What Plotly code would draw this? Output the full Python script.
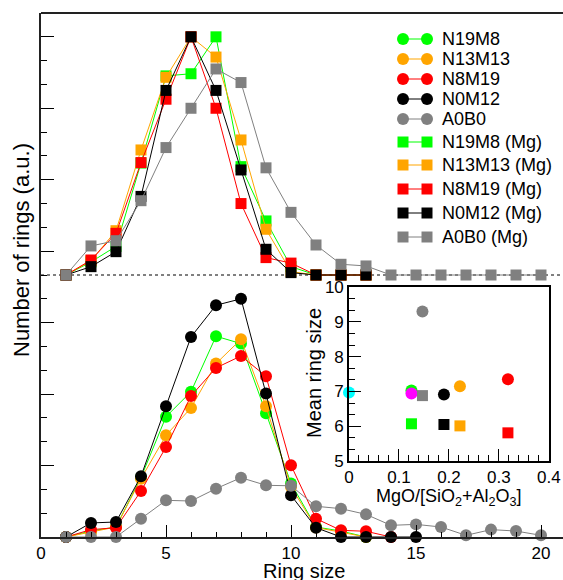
import plotly.graph_objects as go

# ---------------- data ----------------
ring_sizes = list(range(1, 21))

names = ["N19M8", "N13M13", "N8M19", "N0M12", "A0B0"]
colors = ["#00ff00", "#ffa500", "#ff0000", "#000000", "#808080"]

# lower panel: circles (bare glass)
circ_n19m8 = [0, 0.25, 0.42, 2.5, 5.05, 6.1, 8.43, 8.12, 5.2, 2.25, 0.42, 0.25, 0.0]
circ_n13m13 = [0, 0.2, 0.42, 2.45, 4.27, 5.42, 7.28, 8.3, 5.49, 2.1, 0.4, 0.2, 0.0]
circ_n8m19 = [0, 0.31, 0.39, 1.93, 3.78, 5.92, 7.1, 7.6, 6.75, 3.01, 0.77, 0.28, 0.24, 0.0]
circ_n0m12 = [0, 0.59, 0.63, 2.55, 5.49, 8.4, 9.73, 10.0, 6.02, 1.75, 0.39, 0.0, 0.0, 0.0, 0.0]
circ_a0b0 = [0, 0, 0, 0.77, 1.54, 1.51, 2.03, 2.49, 2.17, 2.15, 1.29, 1.19, 0.95, 0.49,
             0.53, 0.42, 0.07, 0.31, 0.25, 0.07]

# upper panel: squares (Mg)
sq_n19m8 = [0, 0.55, 1.2, 4.7, 8.36, 8.45, 10.0, 4.55, 2.27, 0.35, 0.0, 0.0, 0.0]
sq_n13m13 = [0, 0.6, 1.86, 5.25, 8.3, 10.0, 9.15, 5.67, 1.92, 0.14, 0.0, 0.0, 0.0]
sq_n8m19 = [0, 0.63, 1.75, 4.72, 7.38, 10.0, 7.0, 3.0, 0.73, 0.5, 0.0, 0.0, 0.0]
sq_n0m12 = [0, 0.35, 0.98, 3.3, 7.75, 10.0, 7.75, 4.41, 1.08, 0.1, 0.0, 0.0, 0.0]
sq_a0b0 = [0, 1.22, 1.44, 3.12, 5.35, 7.0, 8.65, 8.08, 4.5, 2.63, 1.26, 0.45, 0.38,
           0, 0, 0, 0, 0, 0, 0]

circles = [circ_n19m8, circ_n13m13, circ_n8m19, circ_n0m12, circ_a0b0]
squares = [sq_n19m8, sq_n13m13, sq_n8m19, sq_n0m12, sq_a0b0]

# inset: mean ring size vs MgO/[SiO2+Al2O3]
inset_circ_x = [0.0, 0.125, 0.125, 0.147, 0.19, 0.222, 0.318]
inset_circ_y = [6.97, 7.03, 6.94, 9.3, 6.91, 7.15, 7.35]
inset_circ_c = ["#00ffff", "#00ff00", "#ff00ff", "#808080", "#000000", "#ffa500", "#ff0000"]
inset_sq_x = [0.125, 0.147, 0.19, 0.222, 0.318]
inset_sq_y = [6.07, 6.88, 6.05, 6.01, 5.81]
inset_sq_c = ["#00ff00", "#808080", "#000000", "#ffa500", "#ff0000"]

UPPER_OFFSET = 11

FONT = "Liberation Sans, Arial, Helvetica, sans-serif"

# plot-area geometry in pixels (for the hand-drawn legend)
PL, PR, PT, PB = 41, 563, 13, 537
def px_x(p):
    return (p - PL) / (PR - PL)
def px_y(p):
    return (PB - p) / (PB - PT)

fig = go.Figure()

for name, col, vals in zip(names, colors, circles):
    fig.add_trace(go.Scatter(
        x=ring_sizes[:len(vals)], y=vals, name=name, mode="lines+markers",
        line=dict(color=col, width=1),
        marker=dict(symbol="circle", size=12, color=col, line=dict(width=0)),
        cliponaxis=False, showlegend=False))

for name, col, vals in zip(names, colors, squares):
    fig.add_trace(go.Scatter(
        x=ring_sizes[:len(vals)], y=[v + UPPER_OFFSET for v in vals],
        name=name + " (Mg)", mode="lines+markers",
        line=dict(color=col, width=1),
        marker=dict(symbol="square", size=11, color=col, line=dict(width=0)),
        cliponaxis=False, showlegend=False))

fig.add_trace(go.Scatter(
    x=inset_circ_x, y=inset_circ_y, mode="markers", xaxis="x2", yaxis="y2",
    marker=dict(symbol="circle", size=12, color=inset_circ_c, line=dict(width=0)),
    showlegend=False, cliponaxis=False))
fig.add_trace(go.Scatter(
    x=inset_sq_x, y=inset_sq_y, mode="markers", xaxis="x2", yaxis="y2",
    marker=dict(symbol="square", size=11, color=inset_sq_c, line=dict(width=0)),
    showlegend=False, cliponaxis=False))

# dotted baseline of the upper panel
fig.add_shape(type="line", xref="paper", yref="y", x0=0, x1=1,
              y0=UPPER_OFFSET, y1=UPPER_OFFSET,
              line=dict(color="black", width=1, dash="dot"), layer="below")
# top frame line
fig.add_shape(type="line", xref="paper", yref="paper", x0=0, x1=1, y0=1, y1=1,
              line=dict(color="#222", width=2))

# ---- legend (Grace style: line with a symbol at each end) ----
legend_rows_px = [39, 59, 79, 99, 119, 142, 165, 189, 213, 237]
legend_entries = ([(n, c, "circle") for n, c in zip(names, colors)] +
                  [(n + " (Mg)", c, "square") for n, c in zip(names, colors)])
gx0, gx1, tx = px_x(403), px_x(427), px_x(440)
for (label, col, sym), ry in zip(legend_entries, legend_rows_px):
    yy = px_y(ry)
    fig.add_shape(type="line", xref="paper", yref="paper", x0=gx0, x1=gx1,
                  y0=yy, y1=yy, line=dict(color=col, width=1))
    for gx in (gx0, gx1):
        half = 6 if sym == "circle" else 5.5
        fig.add_shape(type="circle" if sym == "circle" else "rect",
                      xref="paper", yref="paper",
                      xsizemode="pixel", ysizemode="pixel",
                      xanchor=gx, yanchor=yy,
                      x0=-half, x1=half, y0=-half, y1=half,
                      fillcolor=col, line=dict(width=0))
    fig.add_annotation(text=label, xref="paper", yref="paper", x=tx, y=yy,
                       xanchor="left", yanchor="middle", showarrow=False,
                       font=dict(size=18))

fig.update_layout(
    width=563, height=580,
    margin=dict(l=41, r=0, t=13, b=43, autoexpand=False),
    paper_bgcolor="white", plot_bgcolor="white",
    font=dict(family=FONT, size=17, color="black"),
    showlegend=False,
    xaxis=dict(range=[0, 20.88], showgrid=False, zeroline=False,
               showline=True, linecolor="#222", linewidth=2,
               ticks="inside", ticklen=12, tickcolor="black", tickwidth=1,
               dtick=5, tick0=0,
               minor=dict(ticks="inside", ticklen=5, dtick=1, tickcolor="black", tickwidth=1),
               tickfont=dict(size=17)),
    yaxis=dict(range=[0, 22], showgrid=False, zeroline=False,
               showline=True, linecolor="#222", linewidth=2,
               ticks="inside", ticklen=13, tickcolor="black", tickwidth=1,
               dtick=3, tick0=0, showticklabels=False,
               minor=dict(ticks="inside", ticklen=6, dtick=1, tickcolor="black", tickwidth=1)),
    xaxis2=dict(domain=[0.590, 0.973], anchor="y2", range=[0, 0.4],
                showgrid=False, zeroline=False, showline=True, mirror=True,
                linecolor="black", linewidth=1.5,
                ticks="inside", ticklen=12, tickcolor="black", dtick=0.1, tick0=0,
                minor=dict(ticks="inside", ticklen=6, dtick=0.02, tickcolor="black"),
                tickfont=dict(size=17)),
    yaxis2=dict(domain=[0.145, 0.477], anchor="x2", range=[5, 10],
                showgrid=False, zeroline=False, showline=True, mirror=True,
                linecolor="black", linewidth=1.5,
                ticks="inside", ticklen=12, tickcolor="black", dtick=1, tick0=5,
                minor=dict(ticks="inside", ticklen=6, dtick=1/3, tickcolor="black"),
                tickfont=dict(size=17)),
)

fig.add_annotation(text="Number of rings (a.u.)", xref="paper", yref="paper",
                   x=px_x(22), y=px_y(250), textangle=-90, showarrow=False,
                   xanchor="center", yanchor="middle", font=dict(size=22))
fig.add_annotation(text="Ring size", xref="paper", yref="paper",
                   x=px_x(304), y=px_y(571), showarrow=False,
                   xanchor="center", yanchor="middle", font=dict(size=20))
fig.add_annotation(text="Mean ring size", xref="paper", yref="paper",
                   x=px_x(314), y=px_y(373), textangle=-90, showarrow=False,
                   xanchor="center", yanchor="middle", font=dict(size=20))
fig.add_annotation(text="MgO/[SiO<sub>2</sub>+Al<sub>2</sub>O<sub>3</sub>]",
                   xref="paper", yref="paper", x=px_x(449), y=px_y(497), showarrow=False,
                   xanchor="center", yanchor="middle", font=dict(size=18))

fig.write_html("out.html", post_script="document.body.style.margin='0';",
               config={"displayModeBar": False})
